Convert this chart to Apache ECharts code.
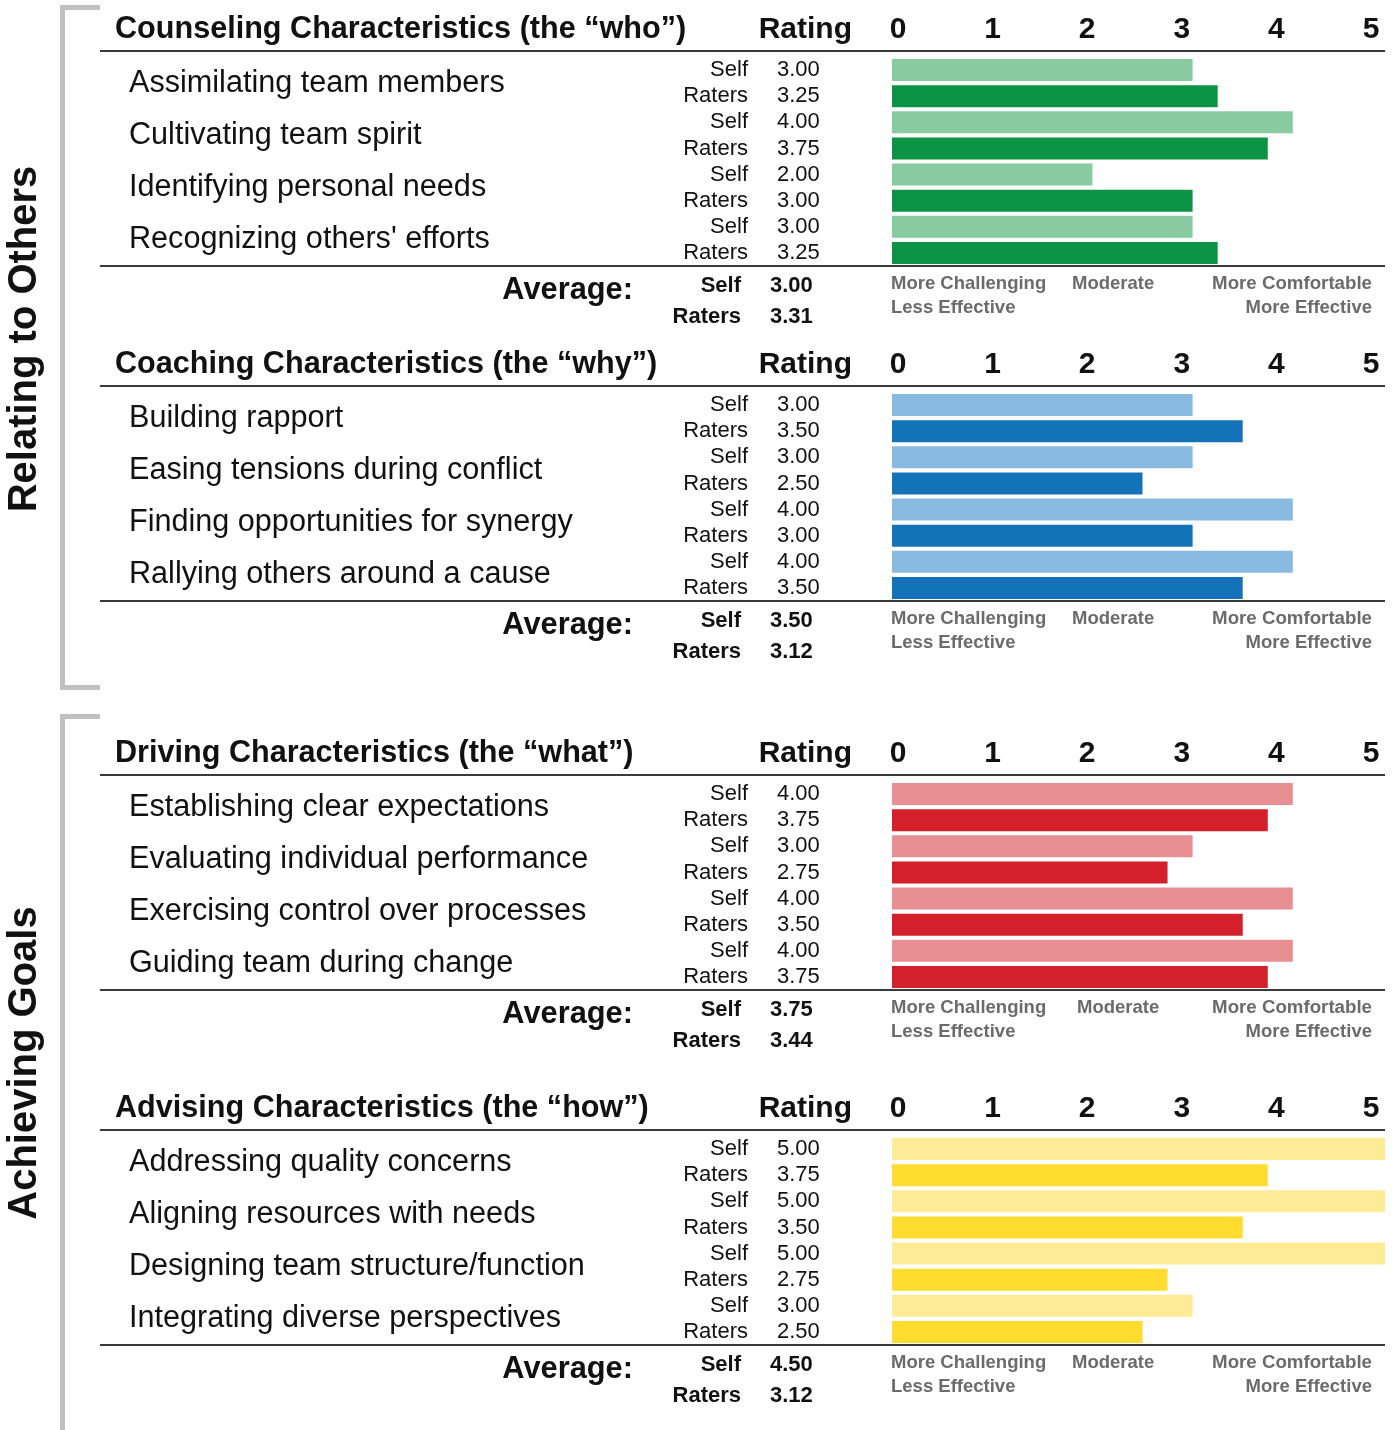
<!DOCTYPE html>
<html><head><meta charset="utf-8">
<script src="https://cdn.jsdelivr.net/npm/echarts@6/dist/echarts.min.js"></script>
<style>html,body{margin:0;padding:0;background:#fff}#c{width:1399px;height:1430px}</style>
</head><body><div id="c"></div>
<script>
// ---- data ----
const groupTitles = ['Relating to Others', 'Achieving Goals'];
const sectionTitles = [
  'Counseling Characteristics (the \u201cwho\u201d)',
  'Coaching Characteristics (the \u201cwhy\u201d)',
  'Driving Characteristics (the \u201cwhat\u201d)',
  'Advising Characteristics (the \u201chow\u201d)'
];
const counselingItems = ['Assimilating team members', 'Cultivating team spirit', 'Identifying personal needs', "Recognizing others' efforts"];
const counselingSelf = [3.00, 4.00, 2.00, 3.00];
const counselingRaters = [3.25, 3.75, 3.00, 3.25];
const coachingItems = ['Building rapport', 'Easing tensions during conflict', 'Finding opportunities for synergy', 'Rallying others around a cause'];
const coachingSelf = [3.00, 3.00, 4.00, 4.00];
const coachingRaters = [3.50, 2.50, 3.00, 3.50];
const drivingItems = ['Establishing clear expectations', 'Evaluating individual performance', 'Exercising control over processes', 'Guiding team during change'];
const drivingSelf = [4.00, 3.00, 4.00, 4.00];
const drivingRaters = [3.75, 2.75, 3.50, 3.75];
const advisingItems = ['Addressing quality concerns', 'Aligning resources with needs', 'Designing team structure/function', 'Integrating diverse perspectives'];
const advisingSelf = [5.00, 5.00, 5.00, 3.00];
const advisingRaters = [3.75, 3.50, 2.75, 2.50];
const avgSelf = [3.00, 3.50, 3.75, 4.50];
const avgRaters = [3.31, 3.12, 3.44, 3.12];
const ratingTicks = [0, 1, 2, 3, 4, 5];
const scaleLabels = ['More Challenging', 'Moderate', 'More Comfortable', 'Less Effective', 'More Effective'];

// ---- layout / style ----
const FONT = "'Liberation Sans', Arial, Helvetica, sans-serif";
const sections = [
  {items: counselingItems, self: counselingSelf, raters: counselingRaters, light: '#88CBA0', dark: '#0C9444', off: 0, mod: 1072},
  {items: coachingItems, self: coachingSelf, raters: coachingRaters, light: '#89BBE0', dark: '#1473B8', off: 335, mod: 1072},
  {items: drivingItems, self: drivingSelf, raters: drivingRaters, light: '#E88F93', dark: '#D3202A', off: 724, mod: 1077},
  {items: advisingItems, self: advisingSelf, raters: advisingRaters, light: '#FEEB96', dark: '#FEDD30', off: 1079, mod: 1072}
];

const grid = [], xAxis = [], yAxis = [], series = [], graphic = [];
function txt(text, x, y, size, opts) {
  opts = opts || {};
  graphic.push({type: 'text', x: x, y: y, rotation: opts.rot || 0, silent: true,
    style: {text: text, fontSize: size, fontWeight: opts.bold ? 'bold' : 'normal', fontFamily: FONT,
      fill: opts.color || '#111', textAlign: opts.align || 'left', textVerticalAlign: 'middle'}});
}
function rect(x, y, w, h, c) {
  graphic.push({type: 'rect', silent: true, shape: {x: x, y: y, width: w, height: h}, style: {fill: c}});
}

sections.forEach((s, k) => {
  const o = s.off;
  // bar grid
  grid.push({left: 892, top: 57 + o, width: 493, height: 209, containLabel: false, outerBoundsMode: 'none'});
  // tick label grid
  grid.push({left: 898, top: 30 + o, width: 473, height: 1, containLabel: false, outerBoundsMode: 'none'});
  xAxis.push({gridIndex: 2 * k, type: 'value', min: 0, max: 4.92, show: false});
  xAxis.push({gridIndex: 2 * k + 1, type: 'value', min: 0, max: 5, interval: 1, position: 'top',
    axisLine: {show: false}, axisTick: {show: false}, splitLine: {show: false},
    axisLabel: {margin: 0, verticalAlign: 'middle', fontSize: 30, fontWeight: 'bold', color: '#111', fontFamily: FONT,
      formatter: v => String(ratingTicks[Math.round(v)])}});
  const rowNames = [], rowVals = [], selfData = [], ratersData = [];
  s.items.forEach((it, i) => {
    rowNames.push('Self', 'Raters');
    rowVals.push(s.self[i].toFixed(2), s.raters[i].toFixed(2));
    selfData.push(s.self[i], '-');
    ratersData.push('-', s.raters[i]);
  });
  const base = yAxis.length;
  const hide = {position: 'left', offset: 0, axisLine: {show: false}, axisTick: {show: false}, splitLine: {show: false}};
  yAxis.push(Object.assign({gridIndex: 2 * k, type: 'category', inverse: true, data: rowNames.map((n, i) => n + '#' + i),
    axisLabel: {interval: 0, margin: 144, align: 'right', padding: [8, 0, 0, 0], fontSize: 22, color: '#111', fontFamily: FONT, formatter: v => v.split('#')[0]}}, hide));
  yAxis.push(Object.assign({gridIndex: 2 * k, type: 'category', inverse: true, data: rowVals.map((n, i) => n + '#' + i),
    axisLabel: {interval: 0, margin: 115, align: 'left', padding: [8, 0, 0, 0], fontSize: 22, color: '#111', fontFamily: FONT, formatter: v => v.split('#')[0]}}, hide));
  yAxis.push(Object.assign({gridIndex: 2 * k, type: 'category', inverse: true, data: s.items,
    axisLabel: {interval: 0, margin: 763, align: 'left', padding: [8, 0, 0, 0], fontSize: 30.6, color: '#111', fontFamily: FONT}}, hide));
  yAxis.push(Object.assign({gridIndex: 2 * k + 1, type: 'category', data: [''], show: false}, hide));
  series.push({type: 'bar', name: 'Self', xAxisIndex: 2 * k, yAxisIndex: base, data: selfData, barWidth: 22, barGap: '-100%',
    clip: true, silent: true, itemStyle: {color: s.light}});
  series.push({type: 'bar', name: 'Raters', xAxisIndex: 2 * k, yAxisIndex: base, data: ratersData, barWidth: 22, barGap: '-100%',
    clip: true, silent: true, itemStyle: {color: s.dark}});

  // header texts
  txt(sectionTitles[k], 115, 30 + o, 30.6, {bold: true});
  txt('Rating', 852, 30 + o, 30, {bold: true, align: 'right'});
  // lines
  rect(100, 50 + o, 1285, 2, '#3a3a3a');
  rect(100, 265 + o, 1285, 2, '#3a3a3a');
  // average
  txt('Average:', 633, 291 + o, 30.8, {bold: true, align: 'right'});
  txt('Self', 741, 286 + o, 22, {bold: true, align: 'right'});
  txt(avgSelf[k].toFixed(2), 770, 286 + o, 22, {bold: true});
  txt('Raters', 741, 317 + o, 22, {bold: true, align: 'right'});
  txt(avgRaters[k].toFixed(2), 770, 317 + o, 22, {bold: true});
  // scale
  const g = '#6b6b6b';
  txt(scaleLabels[0], 891, 284 + o, 18.5, {bold: true, color: g});
  txt(scaleLabels[1], s.mod, 284 + o, 18.5, {bold: true, color: g});
  txt(scaleLabels[2], 1372, 284 + o, 18.7, {bold: true, color: g, align: 'right'});
  txt(scaleLabels[3], 891, 308 + o, 18.5, {bold: true, color: g});
  txt(scaleLabels[4], 1372, 308 + o, 18.5, {bold: true, color: g, align: 'right'});
});

// brackets
const bc = '#c0c0c0';
rect(60, 5, 5, 685, bc); rect(60, 5, 40, 5, bc); rect(60, 685, 40, 5, bc);
rect(60, 714, 5, 716, bc); rect(60, 714, 40, 5, bc);
txt(groupTitles[0], 25, 339, 40, {bold: true, align: 'center', rot: Math.PI / 2});
txt(groupTitles[1], 25, 1063, 40, {bold: true, align: 'center', rot: Math.PI / 2});

const chart = echarts.init(document.getElementById('c'), null, {renderer: 'canvas'});
chart.setOption({animation: false, backgroundColor: '#fff', grid, xAxis, yAxis, series, graphic, tooltip: {show: false}});
</script></body></html>
